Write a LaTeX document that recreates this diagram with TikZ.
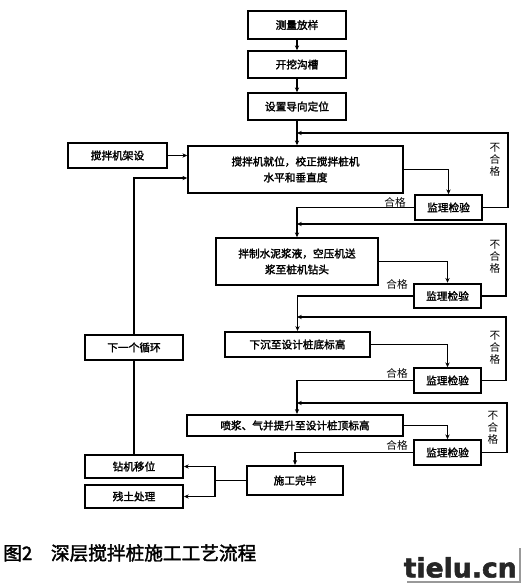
\documentclass[tikz,border=0pt]{standalone}
\usepackage{fontspec}
\usetikzlibrary{arrows.meta}
\setmainfont{Noto Sans CJK SC}[AutoFakeBold=2]
\newfontfamily\logofont{DejaVu Sans}[BoldFeatures={FakeBold=2}]
\begin{document}
\begin{tikzpicture}[x=0.75pt, y=-0.75pt, >={Stealth[length=3.6pt,width=3.2pt]},
  box/.style={draw, line width=1.4pt, minimum width=#1, inner sep=0pt,
    font=\fontsize{8}{12}\selectfont\bfseries, align=center},
  jbox/.style={box=50pt, minimum height=18.5pt},
  arr/.style={->, line width=1pt},
  lbl/.style={font=\fontsize{8}{9}\selectfont, inner sep=0pt, align=center}]
\useasboundingbox (0,0) rectangle (522,584);
% 主流程
\node[box=73.5pt, minimum height=21pt] (cl) at (297,25) {测量放样};
\node[box=73.5pt, minimum height=20pt] (wk) at (297,64.5) {开挖沟槽};
\node[box=73.5pt, minimum height=20pt] (dx) at (297,106.5) {设置导向定位};
\node[box=161pt, minimum height=35pt] (jw) at (295.5,169.5) {搅拌机就位，校正搅拌桩机\\水平和垂直度};
\node[box=74pt, minimum height=19pt] (js) at (117.5,155.5) {搅拌机架设};
\node[jbox] (jl1) at (448.5,207.5) {监理检验};
\node[box=121.5pt, minimum height=35pt] (bz) at (297,261.5) {拌制水泥浆液，空压机送\\浆至桩机钻头};
\node[jbox] (jl2) at (447.5,296) {监理检验};
\node[box=109pt, minimum height=19pt] (xc) at (297.5,344.5) {下沉至设计桩底标高};
\node[jbox] (jl3) at (447.5,380.5) {监理检验};
\node[box=162pt, minimum height=16pt] (pj) at (295,425.5) {喷浆、气并提升至设计桩顶标高};
\node[jbox] (jl4) at (447.5,452.5) {监理检验};
\node[box=72pt, minimum height=22pt] (wb) at (295,480.5) {施工完毕};
\node[box=73.5pt, minimum height=17pt] (yw) at (134,466.5) {钻机移位};
\node[box=73.5pt, minimum height=17pt] (ct) at (134,496.5) {残土处理};
\node[box=73.5pt, minimum height=19pt] (xy) at (134,347.5) {下一个循环};
% 返回点
\coordinate (r1) at (508,133); \coordinate (m1) at (297,133);
\coordinate (r2) at (506,224); \coordinate (m2) at (297,224);
\coordinate (r3) at (506,317); \coordinate (m3) at (297,317);
\coordinate (r4) at (507,403); \coordinate (m4) at (297,403);
\coordinate (fz) at (215,480.5);
% 连线
\draw[arr] (cl) -- (wk);
\draw[arr] (wk) -- (dx);
\draw[arr] (dx) -- (dx |- jw.north);
\draw[arr] (js.east) -- (js.east -| jw.west);
\draw[arr] (jw.east) -| (jl1.north);
\draw[arr] (jl1.east) -| (r1) -- (m1);
\draw[arr] (jl1.west) -| (bz.north);
\draw[arr] (bz.east) -| (jl2.north);
\draw[arr] (jl2.east) -| (r2) -- (m2);
\draw[arr] (jl2.west) -| (xc.north);
\draw[arr] (xc.east) -| (jl3.north);
\draw[arr] (jl3.east) -| (r3) -- (m3);
\draw[arr] (jl3.west) -| (pj.north -| m4);
\draw[arr] (pj.east) -| (jl4.north);
\draw[arr] (jl4.east) -| (r4) -- (m4);
\draw[arr] (jl4.west) -| (wb.north);
\draw[line width=1pt] (wb.west) -- (fz);
\draw[arr] (fz) |- (yw.east);
\draw[arr] (fz) |- (ct.east);
\draw[line width=1pt] (yw.north) -- (xy.south);
\draw[arr] (xy.north) |- ([yshift=-6.4pt]jw.west);
% 标注
\node[lbl] at (495,160) {不\\合\\格};
\node[lbl] at (495,257) {不\\合\\格};
\node[lbl] at (495,348) {不\\合\\格};
\node[lbl] at (493,428) {不\\合\\格};
\node[lbl] at (395,202) {合格};
\node[lbl] at (397,284) {合格};
\node[lbl] at (397,373) {合格};
\node[lbl] at (397,445) {合格};
% 图题
\node[anchor=west, font=\fontsize{14}{16}\selectfont\bfseries, inner sep=0pt] (tt) at (3,553) {图2\quad 深层搅拌桩施工工艺流程};
\node[anchor=south east, font=\logofont\bfseries\fontsize{20}{22}\selectfont, text=black!85, inner sep=0pt] (lg) at (517,578) {tielu.cn};
\draw[black!40, line width=1.5pt] (407,582) -- (520,582) -- (520,548);
\end{tikzpicture}
\end{document}
